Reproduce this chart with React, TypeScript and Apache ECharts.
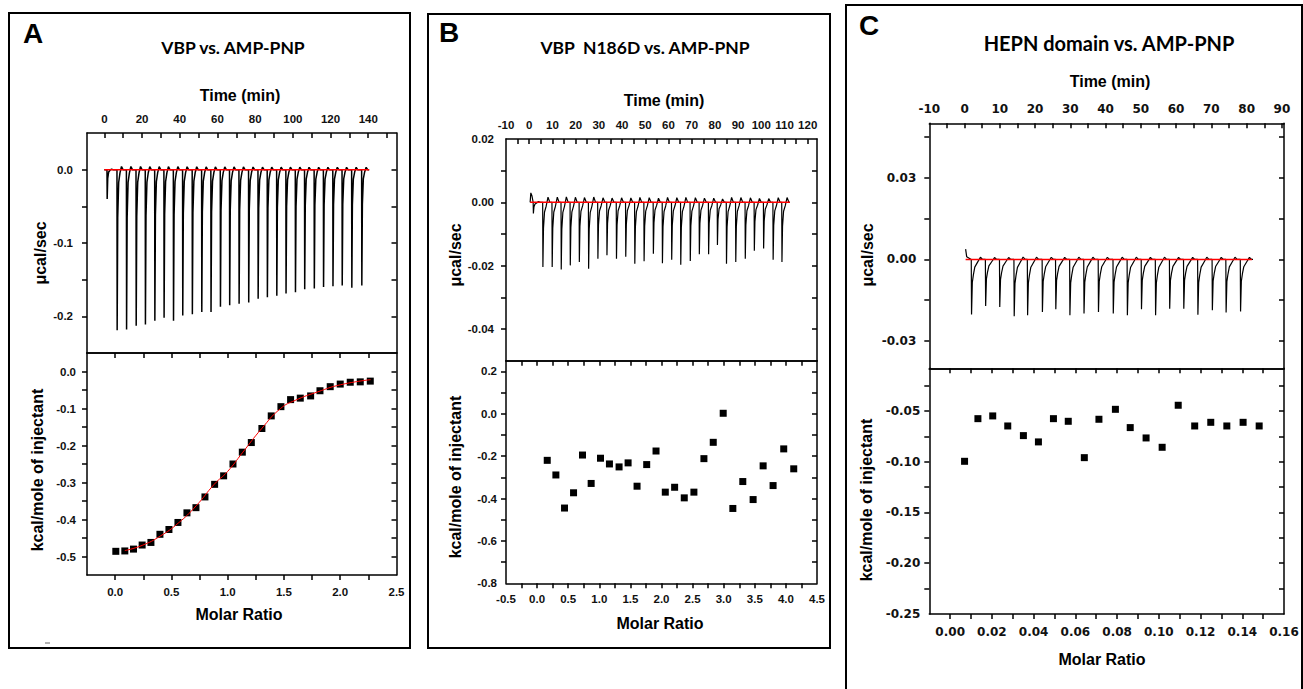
import React, { useEffect, useRef } from "react";
import * as echarts from "echarts";

// ---------- Panel A : VBP vs. AMP-PNP ----------
const injTimeA = [1.4, 6.7, 11.7, 16.8, 21.7, 26.7, 31.6, 36.6, 41.5, 46.6, 51.6, 56.5, 61.5, 66.4, 71.4, 76.5, 81.5, 86.4, 91.4, 96.3, 101.3, 106.2, 111.3, 116.2, 121.2, 126.1, 131.2, 136.5];
const peakA = [-0.04, -0.219, -0.218, -0.213, -0.211, -0.206, -0.202, -0.206, -0.199, -0.197, -0.194, -0.194, -0.187, -0.185, -0.183, -0.181, -0.176, -0.174, -0.172, -0.169, -0.167, -0.163, -0.162, -0.16, -0.159, -0.158, -0.161, -0.158];
const molarA = [0.006, 0.086, 0.163, 0.24, 0.318, 0.398, 0.478, 0.558, 0.638, 0.718, 0.798, 0.884, 0.964, 1.047, 1.13, 1.21, 1.304, 1.387, 1.473, 1.559, 1.645, 1.737, 1.82, 1.911, 2.0, 2.089, 2.178, 2.267];
const heatA = [-0.486, -0.485, -0.48, -0.469, -0.462, -0.44, -0.427, -0.408, -0.382, -0.368, -0.339, -0.305, -0.282, -0.25, -0.218, -0.192, -0.154, -0.12, -0.095, -0.076, -0.072, -0.066, -0.052, -0.041, -0.034, -0.029, -0.028, -0.026];
const fitMolarA = [0.086, 0.24, 0.4, 0.56, 0.72, 0.88, 1.0, 1.13, 1.3, 1.47, 1.6, 1.8, 2.0, 2.27];
const fitHeatA = [-0.484, -0.47, -0.445, -0.41, -0.363, -0.305, -0.27, -0.22, -0.155, -0.1, -0.078, -0.055, -0.036, -0.022];

const timeTicksA = [0, 10, 20, 30, 40, 50, 60, 70, 80, 90, 100, 110, 120, 130, 140, 150];
const timeLabelsA = [0, 20, 40, 60, 80, 100, 120, 140];
const ucalTicksA = [0, -0.05, -0.1, -0.15, -0.2];
const ucalLabelsA = [0, -0.1, -0.2];
const molarTicksA = [0, 0.25, 0.5, 0.75, 1, 1.25, 1.5, 1.75, 2, 2.25];
const molarLabelsA = [0, 0.5, 1, 1.5, 2, 2.5];
const kcalTicksA = [0, -0.05, -0.1, -0.15, -0.2, -0.25, -0.3, -0.35, -0.4, -0.45, -0.5];
const kcalLabelsA = [0, -0.1, -0.2, -0.3, -0.4, -0.5];

// ---------- Panel B : VBP N186D vs. AMP-PNP ----------
const injTimeB = [1.7, 5.8, 9.8, 13.7, 17.6, 21.5, 25.5, 29.5, 33.4, 37.5, 41.5, 45.4, 49.4, 53.4, 57.3, 61.3, 65.2, 69.3, 73.2, 77.2, 81.0, 84.9, 88.9, 93.0, 96.9, 100.9, 105.0, 108.8];
const peakB = [-0.0035, -0.0204, -0.0204, -0.0212, -0.0199, -0.0188, -0.021, -0.0178, -0.0167, -0.0178, -0.0172, -0.0194, -0.0186, -0.0162, -0.0192, -0.0181, -0.0197, -0.0185, -0.0164, -0.0164, -0.0135, -0.0194, -0.0188, -0.0178, -0.0153, -0.0146, -0.0181, -0.0188];
const molarB = [0.163, 0.302, 0.441, 0.586, 0.73, 0.869, 1.019, 1.163, 1.318, 1.463, 1.607, 1.762, 1.912, 2.061, 2.211, 2.366, 2.521, 2.682, 2.832, 2.992, 3.147, 3.307, 3.473, 3.634, 3.794, 3.965, 4.126];
const heatB = [-0.22, -0.289, -0.445, -0.373, -0.195, -0.329, -0.21, -0.237, -0.251, -0.232, -0.342, -0.24, -0.176, -0.37, -0.347, -0.397, -0.37, -0.212, -0.135, 0.002, -0.447, -0.32, -0.405, -0.246, -0.339, -0.166, -0.26];

const timeTicksB = [-5, 0, 5, 10, 15, 20, 25, 30, 35, 40, 45, 50, 55, 60, 65, 70, 75, 80, 85, 90, 95, 100, 105, 110, 115, 120];
const timeLabelsB = [-10, 0, 10, 20, 30, 40, 50, 60, 70, 80, 90, 100, 110, 120];
const ucalTicksB = [0.01, 0, -0.01, -0.02, -0.03, -0.04];
const ucalLabelsB = [0.02, 0, -0.02, -0.04];
const molarTicksB = [-0.25, 0, 0.25, 0.5, 0.75, 1, 1.25, 1.5, 1.75, 2, 2.25, 2.5, 2.75, 3, 3.25, 3.5, 3.75, 4, 4.25];
const molarLabelsB = [-0.5, 0, 0.5, 1, 1.5, 2, 2.5, 3, 3.5, 4, 4.5];
const kcalTicksB = [0.2, 0.1, 0, -0.1, -0.2, -0.3, -0.4, -0.5, -0.6, -0.7];
const kcalLabelsB = [0.2, 0, -0.2, -0.4, -0.6, -0.8];

// ---------- Panel C : HEPN domain vs. AMP-PNP ----------
const injTimeC = [1.9, 5.9, 9.9, 14.0, 17.8, 22.0, 25.8, 29.8, 33.8, 37.9, 42.1, 46.1, 50.1, 54.1, 58.1, 62.1, 66.1, 70.2, 74.1, 78.2];
const peakC = [-0.0202, -0.0171, -0.0175, -0.0209, -0.0205, -0.0193, -0.0183, -0.0205, -0.0199, -0.0193, -0.0199, -0.0205, -0.0183, -0.0205, -0.0181, -0.0181, -0.0203, -0.0187, -0.0195, -0.0191];
const molarC = [0.0069, 0.0133, 0.0204, 0.0276, 0.0351, 0.0423, 0.0495, 0.0566, 0.0643, 0.0713, 0.0792, 0.0863, 0.0939, 0.1016, 0.1093, 0.1172, 0.1249, 0.1326, 0.1404, 0.1481];
const heatC = [-0.0996, -0.0576, -0.0549, -0.0648, -0.0743, -0.0805, -0.0576, -0.0602, -0.096, -0.0582, -0.0484, -0.0664, -0.0766, -0.0858, -0.0444, -0.0648, -0.0612, -0.0648, -0.0612, -0.0648];

const timeTicksC = [-5, 0, 5, 10, 15, 20, 25, 30, 35, 40, 45, 50, 55, 60, 65, 70, 75, 80, 85, 90];
const timeLabelsC = [-10, 0, 10, 20, 30, 40, 50, 60, 70, 80, 90];
const ucalTicksC = [0.045, 0.03, 0.015, 0, -0.015, -0.03];
const ucalLabelsC = [0.03, 0, -0.03];
const molarTicksC = [0, 0.01, 0.02, 0.03, 0.04, 0.05, 0.06, 0.07, 0.08, 0.09, 0.1, 0.11, 0.12, 0.13, 0.14, 0.15];
const molarLabelsC = [0, 0.02, 0.04, 0.06, 0.08, 0.1, 0.12, 0.14, 0.16];
const kcalTicksC = [-0.025, -0.05, -0.075, -0.1, -0.125, -0.15, -0.175, -0.2, -0.225];
const kcalLabelsC = [-0.05, -0.1, -0.15, -0.2, -0.25];

// injection peak template: [minutes after injection, fraction of peak]
const shapeA = [[0, 0], [0.1, 1], [0.4, 0.3], [0.9, 0.08], [1.6, 0.02], [2.4, -0.02], [3.2, 0]];
const shapeB = [[0, 0], [0.1, 1], [0.35, 0.4], [0.8, 0.15], [1.5, 0.06], [2.3, -0.08], [3.1, 0]];
const shapeC = [[0, 0], [0.08, 1], [0.3, 0.42], [0.6, 0.28], [1.0, 0.14], [1.8, 0.05], [2.6, -0.04], [3.2, 0]];

function buildTrace(times: number[], peaks: number[], lead: number[][], end: number, shape: number[][]) {
  const pts: number[][] = lead.map((p) => [p[0], p[1]]);
  for (let i = 0; i < times.length; i++) {
    for (const [dt, f] of shape) pts.push([times[i] + dt, peaks[i] * f]);
  }
  pts.push([end, 0]);
  return pts;
}

const TICK_FONT = "'Liberation Sans', Arial, sans-serif";
const TICK_FONT_C = "'DejaVu Sans', sans-serif";
const AX_COLOR = "#000";

function ax(grid: number, pos: string, min: number, max: number, ticks: number[], labels: number[], dec: number,
  withLabel: boolean, inside: boolean, margin: number, fs: number, ff: string) {
  return {
    type: "value",
    gridIndex: grid,
    position: pos,
    min,
    max,
    splitLine: { show: false },
    axisLine: { show: true, onZero: false, lineStyle: { color: AX_COLOR, width: 1.5 } },
    axisTick: {
      show: ticks.length > 0,
      inside,
      length: 5,
      customValues: ticks,
      lineStyle: { color: AX_COLOR, width: 1.5 },
    },
    axisLabel: {
      show: withLabel,
      customValues: labels,
      margin,
      formatter: (v: number) => Number(v).toFixed(dec),
      fontSize: fs,
      fontWeight: "bold",
      fontFamily: ff,
      color: "#111",
    },
  };
}

function txt(x: number, y: number, text: string, fontSize: number, fontFamily: string, rotate = 0) {
  return {
    type: "text",
    x,
    y,
    rotation: rotate,
    silent: true,
    z: 20,
    style: {
      text,
      fontSize,
      fontWeight: "bold",
      fontFamily,
      fill: "#000",
      align: "center",
      verticalAlign: "middle",
    },
  };
}

function rect(x: number, y: number, w: number, h: number) {
  return {
    type: "rect",
    silent: true,
    z: 20,
    shape: { x, y, width: w, height: h },
    style: { fill: "none", stroke: "#000", lineWidth: 2 },
  };
}

export default function App() {
  const ref = useRef<HTMLDivElement>(null);
  useEffect(() => {
    if (!ref.current) return;
    const chart = echarts.init(ref.current, null, { renderer: "svg" });

    const traceA = buildTrace(injTimeA, peakA, [[0, 0]], 140.5, shapeA);
    const traceB = buildTrace(injTimeB, peakB, [[0.4, 0], [0.7, 0.003], [1.2, 0.002]], 112.3, shapeB);
    const traceC = buildTrace(injTimeC, peakC, [[0.3, 0.0038], [0.6, 0.001]], 81.8, shapeC);

    const T = TICK_FONT, C = TICK_FONT_C;
    const xAxis = [
      // A top grid: time axis on top (ticks inside), plain bottom edge
      ax(0, "top", -9.2, 155, timeTicksA, timeLabelsA, 0, true, true, 8, 11.5, T),
      ax(0, "bottom", -9.2, 155, [], [], 0, false, true, 8, 11.5, T),
      // A bottom grid
      ax(1, "bottom", -0.25, 2.5, molarTicksA, molarLabelsA, 1, true, false, 11, 11.5, T),
      ax(1, "top", -0.25, 2.5, molarTicksA, [], 1, false, true, 8, 11.5, T),
      // B
      ax(2, "top", -10, 124, timeTicksB, timeLabelsB, 0, true, true, 8, 11.5, T),
      ax(2, "bottom", -10, 124, [], [], 0, false, true, 8, 11.5, T),
      ax(3, "bottom", -0.5, 4.5, molarTicksB, molarLabelsB, 1, true, false, 10, 11.5, T),
      ax(3, "top", -0.5, 4.5, molarTicksB, [], 1, false, true, 8, 11.5, T),
      // C
      ax(4, "top", -10, 90.6, timeTicksC, timeLabelsC, 0, true, true, 8, 12, C),
      ax(4, "bottom", -10, 90.6, [], [], 0, false, true, 8, 12, C),
      ax(5, "bottom", -0.01, 0.16, molarTicksC, molarLabelsC, 2, true, false, 12, 12, C),
      ax(5, "top", -0.01, 0.16, molarTicksC, [], 2, false, true, 8, 12, C),
    ];
    const yAxis = [
      ax(0, "left", -0.25, 0.05, ucalTicksA, ucalLabelsA, 1, true, false, 14, 11.5, T),
      ax(0, "right", -0.25, 0.05, ucalTicksA, [], 1, false, true, 8, 11.5, T),
      ax(1, "left", -0.55, 0.05, kcalTicksA, kcalLabelsA, 1, true, false, 11, 11.5, T),
      ax(1, "right", -0.55, 0.05, kcalTicksA, [], 1, false, true, 8, 11.5, T),
      ax(2, "left", -0.05, 0.02, ucalTicksB, ucalLabelsB, 2, true, false, 12, 11.5, T),
      ax(2, "right", -0.05, 0.02, ucalTicksB, [], 2, false, true, 8, 11.5, T),
      ax(3, "left", -0.8, 0.25, kcalTicksB, kcalLabelsB, 1, true, false, 9, 11.5, T),
      ax(3, "right", -0.8, 0.25, kcalTicksB, [], 1, false, true, 8, 11.5, T),
      ax(4, "left", -0.04, 0.05, ucalTicksC, ucalLabelsC, 2, true, false, 13, 12, C),
      ax(4, "right", -0.04, 0.05, ucalTicksC, [], 2, false, true, 8, 12, C),
      ax(5, "left", -0.25, -0.008, kcalTicksC, kcalLabelsC, 2, true, false, 9, 12, C),
      ax(5, "right", -0.25, -0.008, kcalTicksC, [], 2, false, true, 8, 12, C),
    ];

    const line = (xi: number, data: number[][], color: string, width: number, z: number, smooth = false) => ({
      type: "line",
      xAxisIndex: xi,
      yAxisIndex: xi,
      data,
      showSymbol: false,
      symbol: "none",
      smooth,
      lineStyle: { color, width },
      z,
      silent: true,
    });
    const scatter = (xi: number, xs: number[], ys: number[]) => ({
      type: "scatter",
      xAxisIndex: xi,
      yAxisIndex: xi,
      data: xs.map((x, i) => [x, ys[i]]),
      symbol: "rect",
      symbolSize: 7,
      itemStyle: { color: "#000", opacity: 1 },
      z: 3,
      silent: true,
    });

    const TF = "Lato, 'Open Sans', sans-serif";
    const AF = "'Liberation Sans', Arial, sans-serif";

    chart.setOption({
      animation: false,
      backgroundColor: "#fff",
      grid: [
        { left: 87, top: 133, width: 309.5, height: 220 },
        { left: 87, top: 353, width: 309.5, height: 222 },
        { left: 506, top: 139, width: 311, height: 221.7 },
        { left: 506, top: 360.7, width: 311, height: 222.6 },
        { left: 929.3, top: 123.3, width: 354.7, height: 245 },
        { left: 929.3, top: 368.3, width: 354.7, height: 245.7 },
      ],
      xAxis,
      yAxis,
      series: [
        line(0, traceA, "#000", 1.5, 2),
        line(0, [[0, 0], [140.5, 0]], "#ff0000", 1.5, 4),
        scatter(2, molarA, heatA),
        line(2, fitMolarA.map((x, i) => [x, fitHeatA[i]]), "#ff0000", 1, 5, true),
        line(4, traceB, "#000", 1.2, 2),
        line(4, [[0.4, 0], [112.3, 0]], "#ff0000", 1.5, 4),
        scatter(6, molarB, heatB),
        line(8, traceC, "#000", 1.2, 2),
        line(8, [[0.3, 0], [81.5, 0]], "#ff0000", 1.5, 4),
        scatter(10, molarC, heatC),
      ],
      graphic: [
        rect(9, 13, 401, 635),
        rect(428, 14, 402, 634),
        rect(846, 5, 456, 700),
        { type: "line", silent: true, shape: { x1: 45, y1: 643, x2: 50, y2: 643 }, style: { stroke: "#666", lineWidth: 1 } },
        txt(33, 33, "A", 28, AF),
        txt(449, 32, "B", 28, AF),
        txt(869, 25, "C", 28, AF),
        txt(233, 47, "VBP vs. AMP-PNP", 17.5, TF),
        txt(645, 47, "VBP  N186D vs. AMP-PNP", 17.5, TF),
        txt(1109, 43, "HEPN domain vs. AMP-PNP", 20, TF),
        txt(240, 95, "Time (min)", 16, AF),
        txt(664, 100, "Time (min)", 16, AF),
        txt(1110, 81, "Time (min)", 16, AF),
        txt(239, 614, "Molar Ratio", 16, AF),
        txt(660, 623, "Molar Ratio", 16, AF),
        txt(1102, 659, "Molar Ratio", 16, AF),
        txt(40, 253, "μcal/sec", 16, AF, Math.PI / 2),
        txt(455, 255, "μcal/sec", 16, AF, Math.PI / 2),
        txt(867, 255, "μcal/sec", 16, AF, Math.PI / 2),
        txt(37, 470, "kcal/mole of injectant", 16, AF, Math.PI / 2),
        txt(455, 477, "kcal/mole of injectant", 16, AF, Math.PI / 2),
        txt(866, 500, "kcal/mole of injectant", 16, AF, Math.PI / 2),
      ],
    });
    return () => chart.dispose();
  }, []);

  return (
    <div
      ref={ref}
      style={{ position: "fixed", left: 0, top: 0, width: 1303, height: 689, background: "#fff" }}
    />
  );
}
